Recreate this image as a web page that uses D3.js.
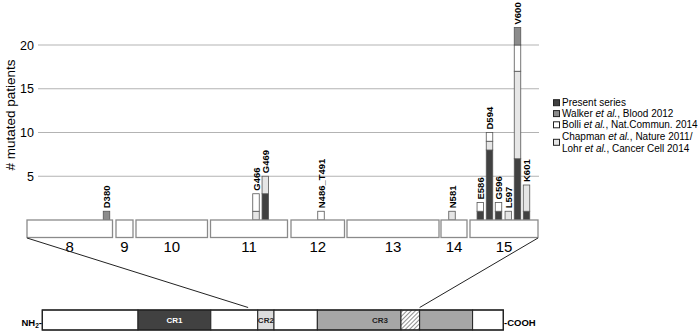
<!DOCTYPE html>
<meta charset="utf-8">
<style>
  body { margin: 0; background: #fff; }
  svg { display: block; font-family: "Liberation Sans", Arial, sans-serif; }
  .mut { font-weight: bold; font-size: 9.5px; }
  .leg { font-size: 10px; }
</style>
<body>
<div id="chart"></div>
<script src="https://cdn.jsdelivr.net/npm/d3@7"></script>
<script>
// mutations, drawn on a track of exons (track units)
var mutations = ["D380", "G466", "G469", "N486_T491", "N581", "E586", "D594", "G596", "L597", "V600", "K601"];
var mutPos    = [79.5, 229, 238.3, 294, 425, 453.3, 462.5, 471.5, 481.3, 490.5, 499.5];
var present   = [0, 0, 3, 0, 0, 1, 8, 1, 0, 7, 1];
var chapman   = [0, 1, 2, 0, 1, 0, 1, 0, 1, 10, 3];
var bolli     = [0, 2, 0, 1, 0, 1, 1, 1, 0, 3, 0];
var walker    = [1, 0, 0, 0, 0, 0, 0, 0, 0, 2, 0];

var exonNames = ["8", "9", "10", "11", "12", "13", "14", "15"];
var exonStart = [0, 89, 109, 183.5, 264, 320, 414, 443];
var exonEnd   = [85.5, 106, 180.5, 260.5, 317.5, 412, 440, 511];

var yTicks = [5, 10, 15, 20];

// protein domains (residue-like units along the protein bar)
var protStart = [0, 159, 280, 358, 385, 457, 596, 627, 715];
var protEnd   = [159, 280, 358, 385, 457, 596, 627, 715, 766];
var protKind  = ["none", "CR1", "none", "CR2", "none", "CR3", "hatch", "CR3", "none"];
var protLabels = [["CR1", 219.5], ["CR2", 371.5], ["CR3", 561]];
var zoomFrom = [342, 627]; // protein positions that exon 8 / exon 15 map to

var legendText = [
  ["Present series"],
  ["Walker |et al.|, Blood 2012"],
  ["Bolli |et al.|, Nat.Commun. 2014"],
  ["Chapman |et al.|, Nature 2011/", "Lohr |et al.|, Cancer Cell 2014"]
];

var keys = ["present", "chapman", "bolli", "walker"];
var fills = {present: "#414141", chapman: "#e6e6e6", bolli: "#ffffff", walker: "#8c8c8c"};
var legendKeys = ["present", "walker", "bolli", "chapman"];

var width = 700, height = 336;
var svg = d3.select("#chart").append("svg")
    .attr("width", width).attr("height", height);

var x = d3.scaleLinear().domain([0, 512]).range([27, 539]);
var y = d3.scaleLinear().domain([0, 20]).range([220, 45]);
var px = d3.scaleLinear().domain([0, 766]).range([42.3, 503.3]);

// grid
svg.append("g").selectAll("line")
  .data(yTicks).enter().append("line")
    .attr("x1", 38).attr("x2", 539)
    .attr("y1", d => y(d)).attr("y2", d => y(d))
    .attr("stroke", "#b3b3b3").attr("stroke-width", 1.2);

svg.append("g").selectAll("text")
  .data(yTicks).enter().append("text")
    .attr("x", 34).attr("y", d => y(d) + 4.5)
    .attr("text-anchor", "end").attr("font-size", 12.5)
    .text(d => d);

svg.append("text")
    .attr("transform", "translate(15," + 115 + ") rotate(-90)")
    .attr("text-anchor", "middle").attr("font-size", 13.5)
    .text("# mutated patients");

// stacked bars
var rows = mutations.map(function(m, i) {
  return {name: m, pos: mutPos[i], present: present[i], chapman: chapman[i], bolli: bolli[i], walker: walker[i]};
});
var series = d3.stack().keys(keys)(rows);
var bw = 6.5;

svg.append("g").selectAll("g")
  .data(series).enter().append("g")
    .attr("fill", d => fills[d.key])
  .selectAll("rect")
  .data(d => d.filter(s => s[1] > s[0])).enter().append("rect")
    .attr("x", d => x(d.data.pos) - bw / 2)
    .attr("width", bw)
    .attr("y", d => y(d[1]))
    .attr("height", d => y(d[0]) - y(d[1]))
    .attr("stroke", "#555").attr("stroke-width", 0.8);

svg.append("g").selectAll("text")
  .data(rows).enter().append("text")
    .attr("class", "mut")
    .attr("transform", function(d) {
      var top = d.present + d.chapman + d.bolli + d.walker;
      return "translate(" + (x(d.pos) + 3.5) + "," + (y(top) - 3) + ") rotate(-90)";
    })
    .text(d => d.name);

// exons
svg.append("g").selectAll("rect")
  .data(exonNames).enter().append("rect")
    .attr("x", (d, i) => x(exonStart[i]))
    .attr("width", (d, i) => x(exonEnd[i]) - x(exonStart[i]))
    .attr("y", 220).attr("height", 17.5)
    .attr("fill", "#fff").attr("stroke", "#8a8a8a").attr("stroke-width", 1.3);

svg.append("g").selectAll("text")
  .data(exonNames).enter().append("text")
    .attr("x", (d, i) => (x(exonStart[i]) + x(exonEnd[i])) / 2)
    .attr("y", 252)
    .attr("text-anchor", "middle").attr("font-size", 15)
    .text(d => d);

// zoom lines
svg.append("line")
    .attr("x1", x(exonStart[0])).attr("y1", 238)
    .attr("x2", px(zoomFrom[0])).attr("y2", 307.5)
    .attr("stroke", "#222").attr("stroke-width", 1);
svg.append("line")
    .attr("x1", x(exonEnd[exonEnd.length - 1])).attr("y1", 238)
    .attr("x2", px(zoomFrom[1])).attr("y2", 307.5)
    .attr("stroke", "#222").attr("stroke-width", 1);

// protein
var defs = svg.append("defs");
var pat = defs.append("pattern")
    .attr("id", "hatch").attr("patternUnits", "userSpaceOnUse")
    .attr("width", 3).attr("height", 3)
    .attr("patternTransform", "rotate(45)");
pat.append("rect").attr("width", 3).attr("height", 3).attr("fill", "#fff");
pat.append("line").attr("x1", 0).attr("y1", 0).attr("x2", 0).attr("y2", 3)
    .attr("stroke", "#333").attr("stroke-width", 1.1);

var protFill = {none: "#fff", CR1: "#414141", CR2: "#dcdcdc", CR3: "#a6a6a6", hatch: "url(#hatch)"};

svg.append("g").selectAll("rect")
  .data(protKind).enter().append("rect")
    .attr("x", (d, i) => px(protStart[i]))
    .attr("width", (d, i) => px(protEnd[i]) - px(protStart[i]))
    .attr("y", 310).attr("height", 20)
    .attr("fill", d => protFill[d])
    .attr("stroke", "#222").attr("stroke-width", 1);
// no divider between the two CR3 halves and the hatch edges are kept; outline on top
svg.append("rect")
    .attr("x", px(0)).attr("width", px(766) - px(0))
    .attr("y", 310).attr("height", 20)
    .attr("fill", "none").attr("stroke", "#222").attr("stroke-width", 1.3);

svg.append("g").selectAll("text")
  .data(protLabels).enter().append("text")
    .attr("x", d => px(d[1])).attr("y", 323)
    .attr("text-anchor", "middle").attr("font-size", 8).attr("font-weight", "bold")
    .attr("fill", d => d[0] === "CR1" ? "#fff" : "#222")
    .text(d => d[0]);

var nh = svg.append("text")
    .attr("x", 42).attr("y", 326)
    .attr("text-anchor", "end").attr("font-size", 9.5).attr("font-weight", "bold");
nh.append("tspan").text("NH");
nh.append("tspan").attr("font-size", 6.5).attr("dy", 2).text("2");
nh.append("tspan").attr("dy", -2).text("-");

svg.append("text")
    .attr("x", 504).attr("y", 325.5)
    .attr("font-size", 9.5).attr("font-weight", "bold")
    .text("-COOH");

// legend
var rowY = [102.7, 113.6, 124.8, 142.3];
var lineY = [[106.2], [117.1], [128.3], [139.8, 151.6]];
var lg = svg.append("g");
legendKeys.forEach(function(k, i) {
  lg.append("rect")
    .attr("x", 553.5).attr("y", rowY[i] - 3).attr("width", 6).attr("height", 6)
    .attr("fill", fills[k]).attr("stroke", "#222").attr("stroke-width", 1);
  legendText[i].forEach(function(line, j) {
    var t = lg.append("text").attr("class", "leg")
      .attr("x", 562).attr("y", lineY[i][j]);
    line.split("|").forEach(function(part, p) {
      t.append("tspan").attr("font-style", p % 2 ? "italic" : null).text(part);
    });
  });
});
</script>
</body>
